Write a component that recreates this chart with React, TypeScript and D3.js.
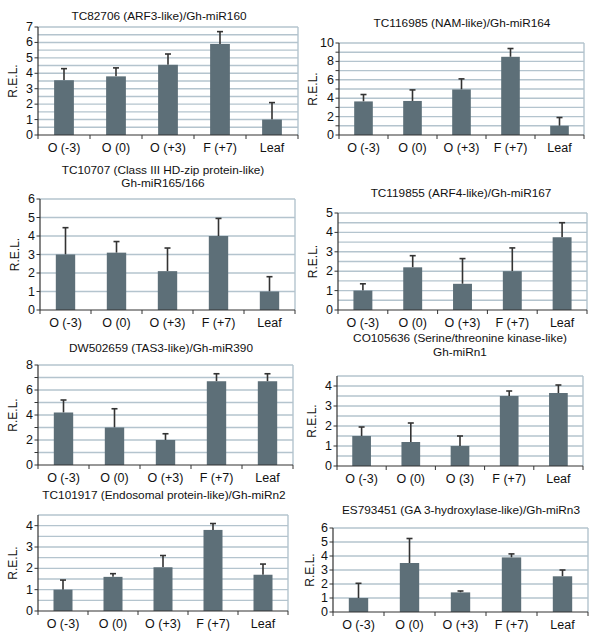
import React from "react";
import * as d3 from "d3";

const categories = ["O (-3)", "O (0)", "O (+3)", "F (+7)", "Leaf"];
const categoriesN1 = ["O (-3)", "O (0)", "O (3)", "F (+7)", "Leaf"];

const miR160Values = [3.55, 3.8, 4.55, 5.9, 1.0];
const miR160Errors = [4.3, 4.35, 5.25, 6.7, 2.1];
const miR164Values = [3.65, 3.7, 4.95, 8.5, 1.0];
const miR164Errors = [4.4, 4.9, 6.1, 9.4, 1.9];
const miR165Values = [3.0, 3.1, 2.1, 4.0, 1.0];
const miR165Errors = [4.45, 3.7, 3.35, 4.95, 1.8];
const miR167Values = [1.0, 2.2, 1.35, 2.0, 3.75];
const miR167Errors = [1.35, 2.8, 2.65, 3.2, 4.5];
const miR390Values = [4.2, 3.0, 2.0, 6.7, 6.7];
const miR390Errors = [5.2, 4.5, 2.5, 7.3, 7.3];
const miRn1Values = [1.5, 1.2, 1.0, 3.5, 3.65];
const miRn1Errors = [1.95, 2.15, 1.5, 3.75, 4.05];
const miRn2Values = [1.0, 1.6, 2.05, 3.8, 1.7];
const miRn2Errors = [1.45, 1.75, 2.6, 4.1, 2.2];
const miRn3Values = [1.0, 3.5, 1.4, 3.9, 2.55];
const miRn3Errors = [2.05, 5.25, 1.5, 4.15, 3.0];

const titles = [
  ["TC82706 (ARF3-like)/Gh-miR160"],
  ["TC116985 (NAM-like)/Gh-miR164"],
  ["TC10707 (Class III HD-zip protein-like)", "Gh-miR165/166"],
  ["TC119855 (ARF4-like)/Gh-miR167"],
  ["DW502659 (TAS3-like)/Gh-miR390"],
  ["CO105636 (Serine/threonine kinase-like)", "Gh-miRn1"],
  ["TC101917 (Endosomal protein-like)/Gh-miRn2"],
  ["ES793451 (GA 3-hydroxylase-like)/Gh-miRn3"],
];

const yMaxes = [7, 10, 6, 5, 8, 4.5, 4.5, 6];
const gridSteps = [0.5, 1, 1, 0.5, 1, 0.5, 0.5, 1];
const labelSteps = [1, 2, 1, 1, 2, 1, 1, 1];

const panelData = [
  { cats: categories, values: miR160Values, errors: miR160Errors },
  { cats: categories, values: miR164Values, errors: miR164Errors },
  { cats: categories, values: miR165Values, errors: miR165Errors },
  { cats: categories, values: miR167Values, errors: miR167Errors },
  { cats: categories, values: miR390Values, errors: miR390Errors },
  { cats: categoriesN1, values: miRn1Values, errors: miRn1Errors },
  { cats: categories, values: miRn2Values, errors: miRn2Errors },
  { cats: categories, values: miRn3Values, errors: miRn3Errors },
];

// layout (pixel geometry)
const layouts = [
  { left: 38, right: 298, top: 27, bottom: 135, titleX: 159, titleY: 16, ylabX: 13 },
  { left: 339, right: 584, top: 43, bottom: 135, titleX: 462, titleY: 23, ylabX: 313 },
  { left: 40, right: 295, top: 199, bottom: 310, titleX: 163, titleY: 169.5, ylabX: 15 },
  { left: 338, right: 587, top: 213, bottom: 310, titleX: 461, titleY: 193, ylabX: 313 },
  { left: 38, right: 293, top: 365, bottom: 465, titleX: 161, titleY: 348, ylabX: 13 },
  { left: 337, right: 583, top: 376, bottom: 466, titleX: 460, titleY: 338, ylabX: 312 },
  { left: 38, right: 288, top: 515, bottom: 611, titleX: 164, titleY: 495, ylabX: 13 },
  { left: 333, right: 588, top: 528, bottom: 612, titleX: 461, titleY: 510, ylabX: 310 },
];

const FONT = "Liberation Sans, Arial, Helvetica, sans-serif";
const BAR = "#5d6f78";
const GRID = "#b4c4ce";
const AXIS = "#333";

function Panel({ i }: { i: number }) {
  const L = layouts[i];
  const D = panelData[i];
  const yMax = yMaxes[i];
  const y = d3.scaleLinear().domain([0, yMax]).range([L.bottom, L.top]);
  const x = d3.scaleBand().domain(D.cats).range([L.left, L.right]).paddingInner(0.62).paddingOuter(0.31);
  const band = (L.right - L.left) / D.cats.length;
  const gridVals = d3.range(gridSteps[i], yMax + 1e-6, gridSteps[i]);
  const tickVals = d3.range(0, yMax + 1e-6, labelSteps[i]);
  const minorVals = d3.range(0, yMax + 1e-6, gridSteps[i] === 1 && labelSteps[i] === 2 ? 1 : labelSteps[i]);
  const capW = 3;
  return (
    <g>
      {titles[i].map((t, k) => (
        <text key={k} x={L.titleX} y={L.titleY + k * 13.8} textAnchor="middle" dominantBaseline="central" fontSize={11.8} fontFamily={FONT} fill="#111">
          {t}
        </text>
      ))}
      {gridVals.map((v) => (
        <line key={"g" + v} x1={L.left} x2={L.right} y1={y(v)} y2={y(v)} stroke={GRID} strokeWidth={1.4} />
      ))}
      <line x1={L.right} x2={L.right} y1={L.top} y2={L.bottom} stroke={GRID} strokeWidth={1.4} />
      {D.values.map((v, j) => {
        const c = D.cats[j];
        const bx = x(c)!;
        const cx = bx + x.bandwidth() / 2;
        return (
          <g key={c}>
            <line x1={cx} x2={cx} y1={y(v)} y2={y(D.errors[j])} stroke="#333" strokeWidth={1.6} />
            <line x1={cx - capW} x2={cx + capW} y1={y(D.errors[j])} y2={y(D.errors[j])} stroke="#333" strokeWidth={1.6} />
            <rect x={bx} y={y(v)} width={x.bandwidth()} height={L.bottom - y(v)} fill={BAR} />
          </g>
        );
      })}
      {/* y axis */}
      <line x1={L.left} x2={L.left} y1={L.top} y2={L.bottom} stroke={AXIS} strokeWidth={1.2} />
      {minorVals.map((v) => (
        <line key={"t" + v} x1={L.left - 3.5} x2={L.left} y1={y(v)} y2={y(v)} stroke={AXIS} strokeWidth={1} />
      ))}
      {tickVals.map((v) => (
        <text key={"l" + v} x={L.left - 5} y={y(v)} textAnchor="end" dominantBaseline="central" fontSize={12.5} fontFamily={FONT} fill="#111">
          {v}
        </text>
      ))}
      {/* x axis */}
      <line x1={L.left} x2={L.right} y1={L.bottom} y2={L.bottom} stroke={AXIS} strokeWidth={1.2} />
      {d3.range(0, D.cats.length + 1).map((k) => (
        <line key={"xt" + k} x1={L.left + k * band} x2={L.left + k * band} y1={L.bottom} y2={L.bottom + 4} stroke={AXIS} strokeWidth={1} />
      ))}
      {D.cats.map((c) => (
        <text key={"xl" + c} x={x(c)! + x.bandwidth() / 2} y={L.bottom + 13} textAnchor="middle" dominantBaseline="central" fontSize={12.5} fontFamily={FONT} fill="#111">
          {c}
        </text>
      ))}
      <text
        transform={`translate(${L.ylabX},${(L.top + L.bottom) / 2}) rotate(-90)`}
        textAnchor="middle"
        dominantBaseline="central"
        fontSize={12}
        fontFamily={FONT}
        fill="#111"
      >
        R.E.L.
      </text>
    </g>
  );
}

export default function App() {
  return (
    <svg width={600} height={639} style={{ position: "absolute", left: 0, top: 0, background: "#fff" }}>
      <rect width={600} height={639} fill="#fff" />
      {layouts.map((_, i) => (
        <Panel key={i} i={i} />
      ))}
    </svg>
  );
}
